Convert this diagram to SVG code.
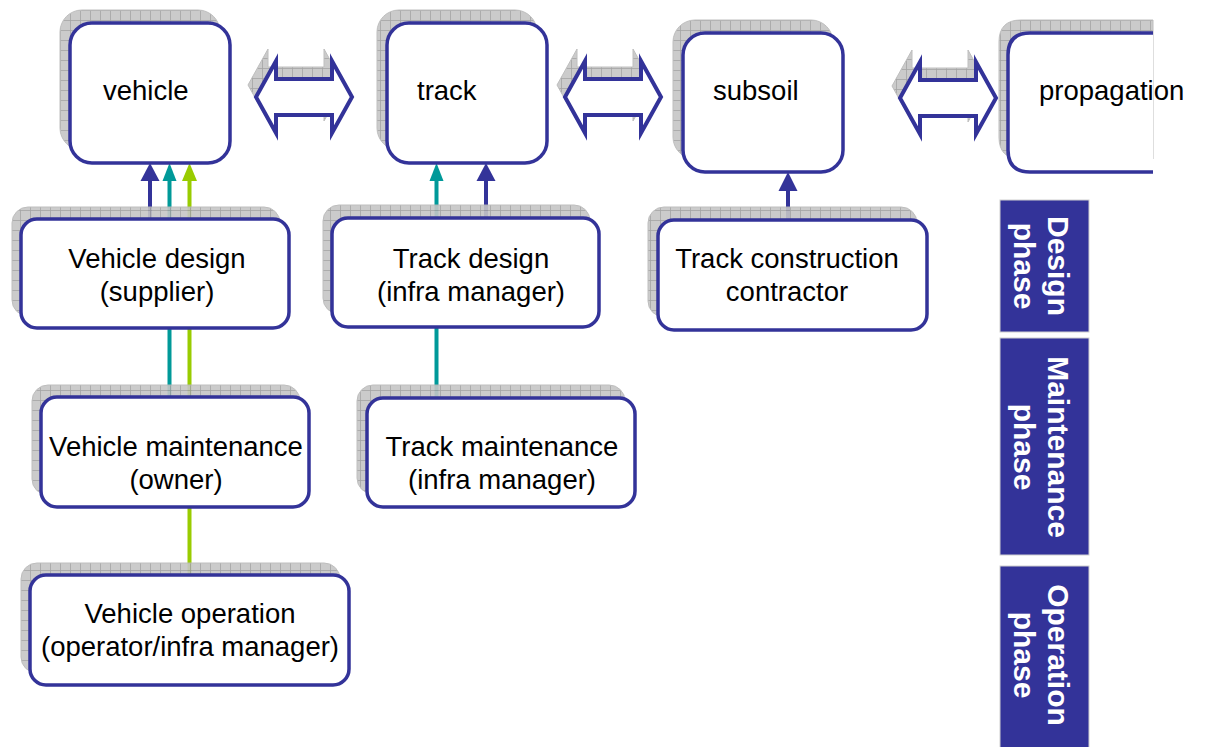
<svg xmlns="http://www.w3.org/2000/svg" width="1227" height="747" viewBox="0 0 1227 747">
<defs>
<pattern id="grid" width="10" height="10" patternUnits="userSpaceOnUse">
<rect width="10" height="10" fill="#c6c6c6"/>
<path d="M0,0.5 H10 M0.5,0 V10" stroke="#9c9c9c" stroke-width="0.8" fill="none"/>
</pattern>
<style>
.sh{fill:url(#grid);stroke:#b8b8b8;stroke-width:1;opacity:0.9}
.box{fill:#ffffff;stroke:#333399;stroke-width:3.5}
.dbl{fill:#ffffff;stroke:#333399;stroke-width:4;stroke-linejoin:miter}
.t{font-family:"Liberation Sans",Arial,sans-serif;font-size:27.5px;fill:#000}
.c{text-anchor:middle}
.ph{fill:#333399;stroke:#d0d0d0;stroke-width:1}
.pt{font-family:"Liberation Sans",Arial,sans-serif;font-size:30px;font-weight:bold;fill:#ffffff;text-anchor:middle}
.lb{stroke:#333399;stroke-width:4;fill:none}
.lt{stroke:#009999;stroke-width:4;fill:none}
.lg{stroke:#99cc00;stroke-width:4;fill:none}
</style>
</defs>

<g id="connectors">
<path class="lb" d="M150,219 V180"/>
<polygon fill="#333399" points="140.5,181 159.5,181 150,163"/>
<path class="lt" d="M169.5,397 V180"/>
<polygon fill="#009999" points="162.5,181 176.5,181 169.5,163"/>
<path class="lg" d="M189.5,575 V180"/>
<polygon fill="#99cc00" points="182,181 197,181 189.5,163"/>
<path class="lt" d="M436.5,398 V180"/>
<polygon fill="#009999" points="429.5,181 443.5,181 436.5,163"/>
<path class="lb" d="M486,218 V180"/>
<polygon fill="#333399" points="476.5,181 495.5,181 486,163"/>
<path class="lb" d="M788,220 V190"/>
<polygon fill="#333399" points="778.5,191 797.5,191 788,172"/>
</g>

<g id="arrow-vehicle-track">
<path class="sh" transform="translate(-8,-12)" d="M256,97 L276,61 L276,79 L332,79 L332,61 L352,97 L332,133 L332,115 L276,115 L276,133 Z"/>
<path class="dbl" d="M256,97 L276,61 L276,79 L332,79 L332,61 L352,97 L332,133 L332,115 L276,115 L276,133 Z"/>
</g>
<g id="arrow-track-subsoil">
<path class="sh" transform="translate(301,-12)" d="M256,97 L276,61 L276,79 L332,79 L332,61 L352,97 L332,133 L332,115 L276,115 L276,133 Z"/>
<path class="dbl" transform="translate(309,0)" d="M256,97 L276,61 L276,79 L332,79 L332,61 L352,97 L332,133 L332,115 L276,115 L276,133 Z"/>
</g>
<g id="arrow-subsoil-propagation">
<path class="sh" transform="translate(636,-11)" d="M256,97 L276,61 L276,79 L332,79 L332,61 L352,97 L332,133 L332,115 L276,115 L276,133 Z"/>
<path class="dbl" transform="translate(644,1)" d="M256,97 L276,61 L276,79 L332,79 L332,61 L352,97 L332,133 L332,115 L276,115 L276,133 Z"/>
</g>

<g id="vehicle">
<rect class="sh" x="60" y="10" width="160" height="140" rx="22"/>
<rect class="box" x="70" y="23" width="160" height="140" rx="22"/>
<text class="t" x="103" y="100">vehicle</text>
</g>
<g id="track">
<rect class="sh" x="377" y="10" width="160" height="140" rx="22"/>
<rect class="box" x="387" y="23" width="160" height="140" rx="22"/>
<text class="t" x="417" y="100">track</text>
</g>
<g id="subsoil">
<rect class="sh" x="673" y="20" width="160" height="139" rx="22"/>
<rect class="box" x="683" y="33" width="160" height="139" rx="22"/>
<text class="t" x="713" y="100">subsoil</text>
</g>
<g id="propagation">
<path class="sh" d="M1153,20 H1021 Q999,20 999,42 V137 Q999,159 1021,159 H1153 Z"/>
<path fill="#ffffff" d="M1153,33 H1030 Q1008,33 1008,55 V150 Q1008,172 1030,172 H1153 Z"/>
<path fill="none" stroke="#333399" stroke-width="3.5" d="M1153,33 H1030 Q1008,33 1008,55 V150 Q1008,172 1030,172 H1153"/>
<text class="t" x="1039" y="100">propagation</text>
</g>

<g id="vehicle-design">
<rect class="sh" x="12" y="207" width="268" height="109" rx="16"/>
<rect class="box" x="21" y="219" width="268" height="109" rx="16"/>
<text class="t c" x="157" y="268">Vehicle design</text>
<text class="t c" x="157" y="301">(supplier)</text>
</g>
<g id="track-design">
<rect class="sh" x="323" y="205" width="267" height="109" rx="16"/>
<rect class="box" x="332" y="218" width="267" height="109" rx="16"/>
<text class="t c" x="471" y="268">Track design</text>
<text class="t c" x="471" y="301">(infra manager)</text>
</g>
<g id="track-construction">
<rect class="sh" x="648" y="207" width="269" height="110" rx="16"/>
<rect class="box" x="658" y="220" width="269" height="110" rx="16"/>
<text class="t c" x="787" y="268">Track construction</text>
<text class="t c" x="787" y="301">contractor</text>
</g>
<g id="vehicle-maintenance">
<rect class="sh" x="32" y="385" width="268" height="110" rx="16"/>
<rect class="box" x="41" y="397" width="268" height="110" rx="16"/>
<text class="t c" x="176" y="456">Vehicle maintenance</text>
<text class="t c" x="176" y="489">(owner)</text>
</g>
<g id="track-maintenance">
<rect class="sh" x="357" y="385" width="268" height="109" rx="16"/>
<rect class="box" x="367" y="398" width="268" height="109" rx="16"/>
<text class="t c" x="502" y="456">Track maintenance</text>
<text class="t c" x="502" y="489">(infra manager)</text>
</g>
<g id="vehicle-operation">
<rect class="sh" x="21" y="563" width="319" height="110" rx="16"/>
<rect class="box" x="30" y="575" width="319" height="110" rx="16"/>
<text class="t c" x="190" y="623">Vehicle operation</text>
<text class="t c" x="190" y="656">(operator/infra manager)</text>
</g>

<g id="design-phase">
<rect class="ph" x="1000" y="200" width="89" height="132"/>
<g transform="translate(1044,266) rotate(90)">
<text class="pt" x="0" y="-4">Design</text>
<text class="pt" x="0" y="30.5">phase</text>
</g>
</g>
<g id="maintenance-phase">
<rect class="ph" x="1000" y="338" width="89" height="217"/>
<g transform="translate(1044,447) rotate(90)">
<text class="pt" x="0" y="-4">Maintenance</text>
<text class="pt" x="0" y="30.5">phase</text>
</g>
</g>
<g id="operation-phase">
<rect class="ph" x="1000" y="566" width="89" height="182"/>
<g transform="translate(1044,655) rotate(90)">
<text class="pt" x="0" y="-4">Operation</text>
<text class="pt" x="0" y="30.5">phase</text>
</g>
</g>
</svg>
